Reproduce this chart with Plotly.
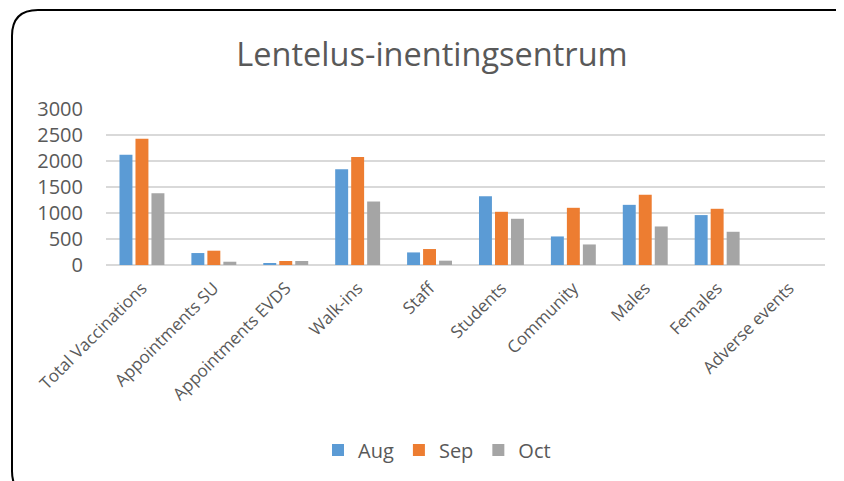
import plotly.graph_objects as go

categories = ["Total Vaccinations", "Appointments SU", "Appointments EVDS", "Walk-ins",
              "Staff", "Students", "Community", "Males", "Females", "Adverse events"]
aug = [2120, 230, 38, 1843, 242, 1324, 549, 1157, 960, 0]
sep = [2430, 275, 77, 2079, 307, 1023, 1100, 1349, 1081, 0]
octo = [1382, 63, 77, 1221, 83, 889, 395, 741, 639, 0]
series_names = ["Aug", "Sep", "Oct"]
colors = ["#5B9BD5", "#ED7D31", "#A5A5A5"]

# page offset (body margin) compensation
OFF = 8
W, H = 844 - OFF, 481 - OFF
# target screen positions of plot area
SL, SR, ST, SB = 106, 825, 109, 265
ML, MT = SL - OFF, ST - OFF
MR = W - (SR - OFF)
MB = H - (SB - OFF)
PW, PH = W - ML - MR, H - MT - MB


def px2x(p):
    return (p - OFF - ML) / PW


def py2y(p):
    return (SB - p) / PH


fig = go.Figure()
for name, vals, c in zip(series_names, [aug, sep, octo], colors):
    fig.add_trace(go.Bar(x=categories, y=vals, name=name, marker=dict(color=c, line=dict(width=0))))

# rounded border (partly outside the page), in screen pixels
L, T, R, B, r = 12, 10, 862, 497, 26
pts = [
    ("M", [(L, T + r)]),
    ("Q", [(L, T), (L + r, T)]),
    ("L", [(R - r, T)]),
    ("Q", [(R, T), (R, T + r)]),
    ("L", [(R, B - r)]),
    ("Q", [(R, B), (R - r, B)]),
    ("L", [(L + r, B)]),
    ("Q", [(L, B), (L, B - r)]),
]
path = ""
for cmd, ps in pts:
    path += cmd + " " + " ".join(f"{px2x(a):.5f},{py2y(b):.5f}" for a, b in ps) + " "
path += "Z"

fig.update_layout(
    width=W, height=H,
    margin=dict(l=ML, r=MR, t=MT, b=MB, autoexpand=False),
    paper_bgcolor="white", plot_bgcolor="white",
    font=dict(family="Open Sans", color="#595959"),
    title=dict(text="Lentelus-inentingsentrum", x=px2x(432), xref="paper", xanchor="center",
               y=1 - (55 - OFF) / H, yanchor="middle",
               font=dict(size=32.5, color="#595959")),
    barmode="group", bargap=0.333, bargroupgap=0.19,
    showlegend=True,
    legend=dict(orientation="h", x=px2x(437), xanchor="center", y=py2y(450), yanchor="middle",
                font=dict(size=20, color="#595959"), itemwidth=30, traceorder="normal"),
    shapes=[dict(type="path", path=path, xref="paper", yref="paper",
                 line=dict(color="black", width=2), layer="above")],
)
fig.update_yaxes(range=[0, 3000], dtick=500, showgrid=True, gridcolor="#D9D9D9", gridwidth=1.5,
                 zeroline=True, zerolinecolor="#D9D9D9", zerolinewidth=1.5,
                 tickfont=dict(size=20, color="#595959"), ticklabelstandoff=22, showline=False)
fig.update_xaxes(tickangle=-45, tickfont=dict(size=17, color="#595959"), showline=False, ticks="",
                 ticklabelstandoff=9, fixedrange=True)

fig.write_html("out.html")
